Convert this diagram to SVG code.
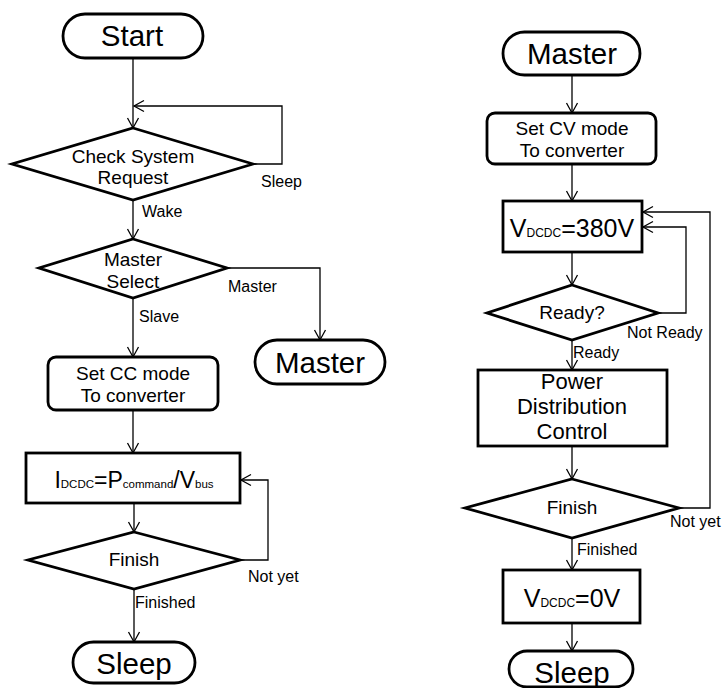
<svg xmlns="http://www.w3.org/2000/svg" width="724" height="688" viewBox="0 0 724 688">
<defs>
<marker id="arr" markerUnits="userSpaceOnUse" markerWidth="14" markerHeight="14" viewBox="-12 -7 14 14" refX="0" refY="0" orient="auto">
<path d="M-10,-5.5 L0,0 L-10,5.5" fill="none" stroke="#000" stroke-width="1.3"/>
</marker>
<style>
.sh{fill:#fff;stroke:#000;stroke-width:2.8}
.cn{fill:none;stroke:#000;stroke-width:1.3;marker-end:url(#arr)}
.t{font-family:"Liberation Sans",Arial,sans-serif;fill:#000;text-anchor:middle}
.lb{font-family:"Liberation Sans",Arial,sans-serif;fill:#000;font-size:16px}
.n18{font-size:19px}
.n28{font-size:29.5px}
</style>
</defs>
<rect width="724" height="688" fill="#fff"/>
<g id="connectors">
<path class="cn" d="M133,58 V128"/>
<path class="cn" d="M253,164 H282 V106 H134"/>
<path class="cn" d="M133,200 V239"/>
<path class="cn" d="M227,268 H320 V340"/>
<path class="cn" d="M133,298 V357"/>
<path class="cn" d="M133,410 V453"/>
<path class="cn" d="M134,503 V532"/>
<path class="cn" d="M240,560 H268 V480 H241"/>
<path class="cn" d="M134,589 V642"/>
<path class="cn" d="M572,75 V113"/>
<path class="cn" d="M572,164 V201"/>
<path class="cn" d="M572,252 V285"/>
<path class="cn" d="M658,313 H686 V227 H643"/>
<path class="cn" d="M572,340 V370"/>
<path class="cn" d="M572,446 V479"/>
<path class="cn" d="M679,508 H710 V212 H643"/>
<path class="cn" d="M572,538 V570"/>
<path class="cn" d="M572,623 V651"/>
</g>
<g id="labels">
<text class="lb" x="261" y="187">Sleep</text>
<text class="lb" x="142" y="217">Wake</text>
<text class="lb" x="228" y="292">Master</text>
<text class="lb" x="139" y="322">Slave</text>
<text class="lb" x="248" y="582">Not yet</text>
<text class="lb" x="135" y="608">Finished</text>
<text class="lb" x="627" y="338">Not Ready</text>
<text class="lb" x="573" y="358">Ready</text>
<text class="lb" x="670" y="527">Not yet</text>
<text class="lb" x="577" y="555">Finished</text>
</g>
<g id="start">
<rect class="sh" x="63" y="14" width="140" height="44" rx="22"/>
<text class="t n28" x="132" y="46">Start</text>
</g>
<g id="check">
<polygon class="sh" points="133,128 253,164 133,200 12,164"/>
<text class="t n18" x="133" y="163">Check System</text>
<text class="t n18" x="133" y="184">Request</text>
</g>
<g id="masterselect">
<polygon class="sh" points="133,239 227,268 133,298 39,268"/>
<text class="t n18" x="133" y="266">Master</text>
<text class="t n18" x="133" y="288">Select</text>
</g>
<g id="masterleft">
<rect class="sh" x="255" y="340" width="130" height="44" rx="22"/>
<text class="t n28" x="320" y="373">Master</text>
</g>
<g id="setcc">
<rect class="sh" x="48" y="357" width="170" height="53" rx="8"/>
<text class="t n18" x="133" y="380">Set CC mode</text>
<text class="t n18" x="133" y="402">To converter</text>
</g>
<g id="idcdc">
<rect class="sh" x="26" y="453" width="214" height="50"/>
<text class="t" x="134" y="488" font-size="23">I<tspan font-size="11.5">DCDC</tspan>=P<tspan font-size="11.5">command</tspan>/V<tspan font-size="11.5">bus</tspan></text>
</g>
<g id="finishleft">
<polygon class="sh" points="134,532 240,560 134,589 28,560"/>
<text class="t n18" x="134" y="566">Finish</text>
</g>
<g id="sleepleft">
<rect class="sh" x="73" y="642" width="122" height="41" rx="20.5"/>
<text class="t n28" x="134" y="674">Sleep</text>
</g>
<g id="masterright">
<rect class="sh" x="503" y="32" width="137" height="43" rx="21.5"/>
<text class="t n28" x="572" y="64">Master</text>
</g>
<g id="setcv">
<rect class="sh" x="487" y="113" width="169" height="51" rx="8"/>
<text class="t n18" x="572" y="135">Set CV mode</text>
<text class="t n18" x="572" y="157">To converter</text>
</g>
<g id="v380">
<rect class="sh" x="503" y="201" width="139" height="51"/>
<text class="t" x="572" y="237" font-size="25">V<tspan font-size="12">DCDC</tspan>=380V</text>
</g>
<g id="ready">
<polygon class="sh" points="572,285 658,313 572,340 487,313"/>
<text class="t n18" x="572" y="319">Ready?</text>
</g>
<g id="power">
<rect class="sh" x="478" y="370" width="189" height="76"/>
<text class="t" x="572" y="389" font-size="22">Power</text>
<text class="t" x="572" y="414" font-size="22">Distribution</text>
<text class="t" x="572" y="439" font-size="22">Control</text>
</g>
<g id="finishright">
<polygon class="sh" points="572,479 679,508 572,538 465,508"/>
<text class="t n18" x="572" y="514">Finish</text>
</g>
<g id="v0">
<rect class="sh" x="503" y="570" width="137" height="53"/>
<text class="t" x="572" y="607" font-size="25">V<tspan font-size="12">DCDC</tspan>=0V</text>
</g>
<g id="sleepright">
<rect class="sh" x="509" y="651" width="124" height="36" rx="18"/>
<text class="t n28" x="572" y="683">Sleep</text>
</g>
</svg>
